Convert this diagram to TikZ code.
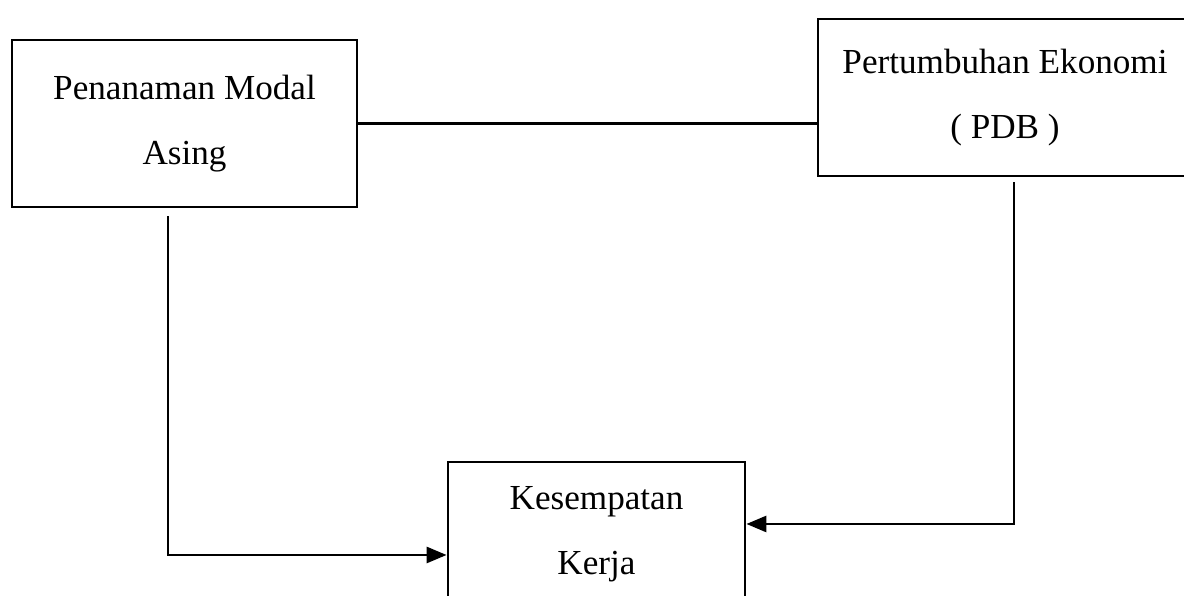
\documentclass[tikz,border=0pt]{standalone}
\usepackage{fontspec}
\setmainfont{Liberation Serif}
\usetikzlibrary{arrows.meta}

\begin{document}
\begin{tikzpicture}
        \useasboundingbox (0,0) rectangle (11.84,5.96);
        \clip (0,0) rectangle (11.84,5.96);

        \begin{scope}[every node/.style={draw,line width=0.8pt,align=center,
            font=\fontsize{10}{18.5}\selectfont}]
            \node[minimum width=3.45cm,minimum height=1.67cm] (PMA) at (1.845,4.725) {Penanaman Modal\\Asing};
            \node[minimum width=3.74cm,minimum height=1.57cm] (PDB) at (10.05,4.985) {Pertumbuhan Ekonomi\\( PDB )};
            \node[minimum width=2.97cm,minimum height=1.44cm] (KK) at (5.965,0.62) {Kesempatan\\Kerja};
        \end{scope}

        \begin{scope}[>={Triangle[length=0.2cm,width=0.16cm]},
            line width=0.8pt]
            \draw (PMA.east) -- (PMA.east -| PDB.west);
            \draw [->, shorten <=0.08cm] ([xshift=-0.165cm]PMA.south) |- ([yshift=-0.21cm]KK.west);
            \draw [->, shorten <=0.05cm] ([xshift=0.09cm]PDB.south) |- ([yshift=0.10cm]KK.east);
        \end{scope}
    \end{tikzpicture}
\end{document}
